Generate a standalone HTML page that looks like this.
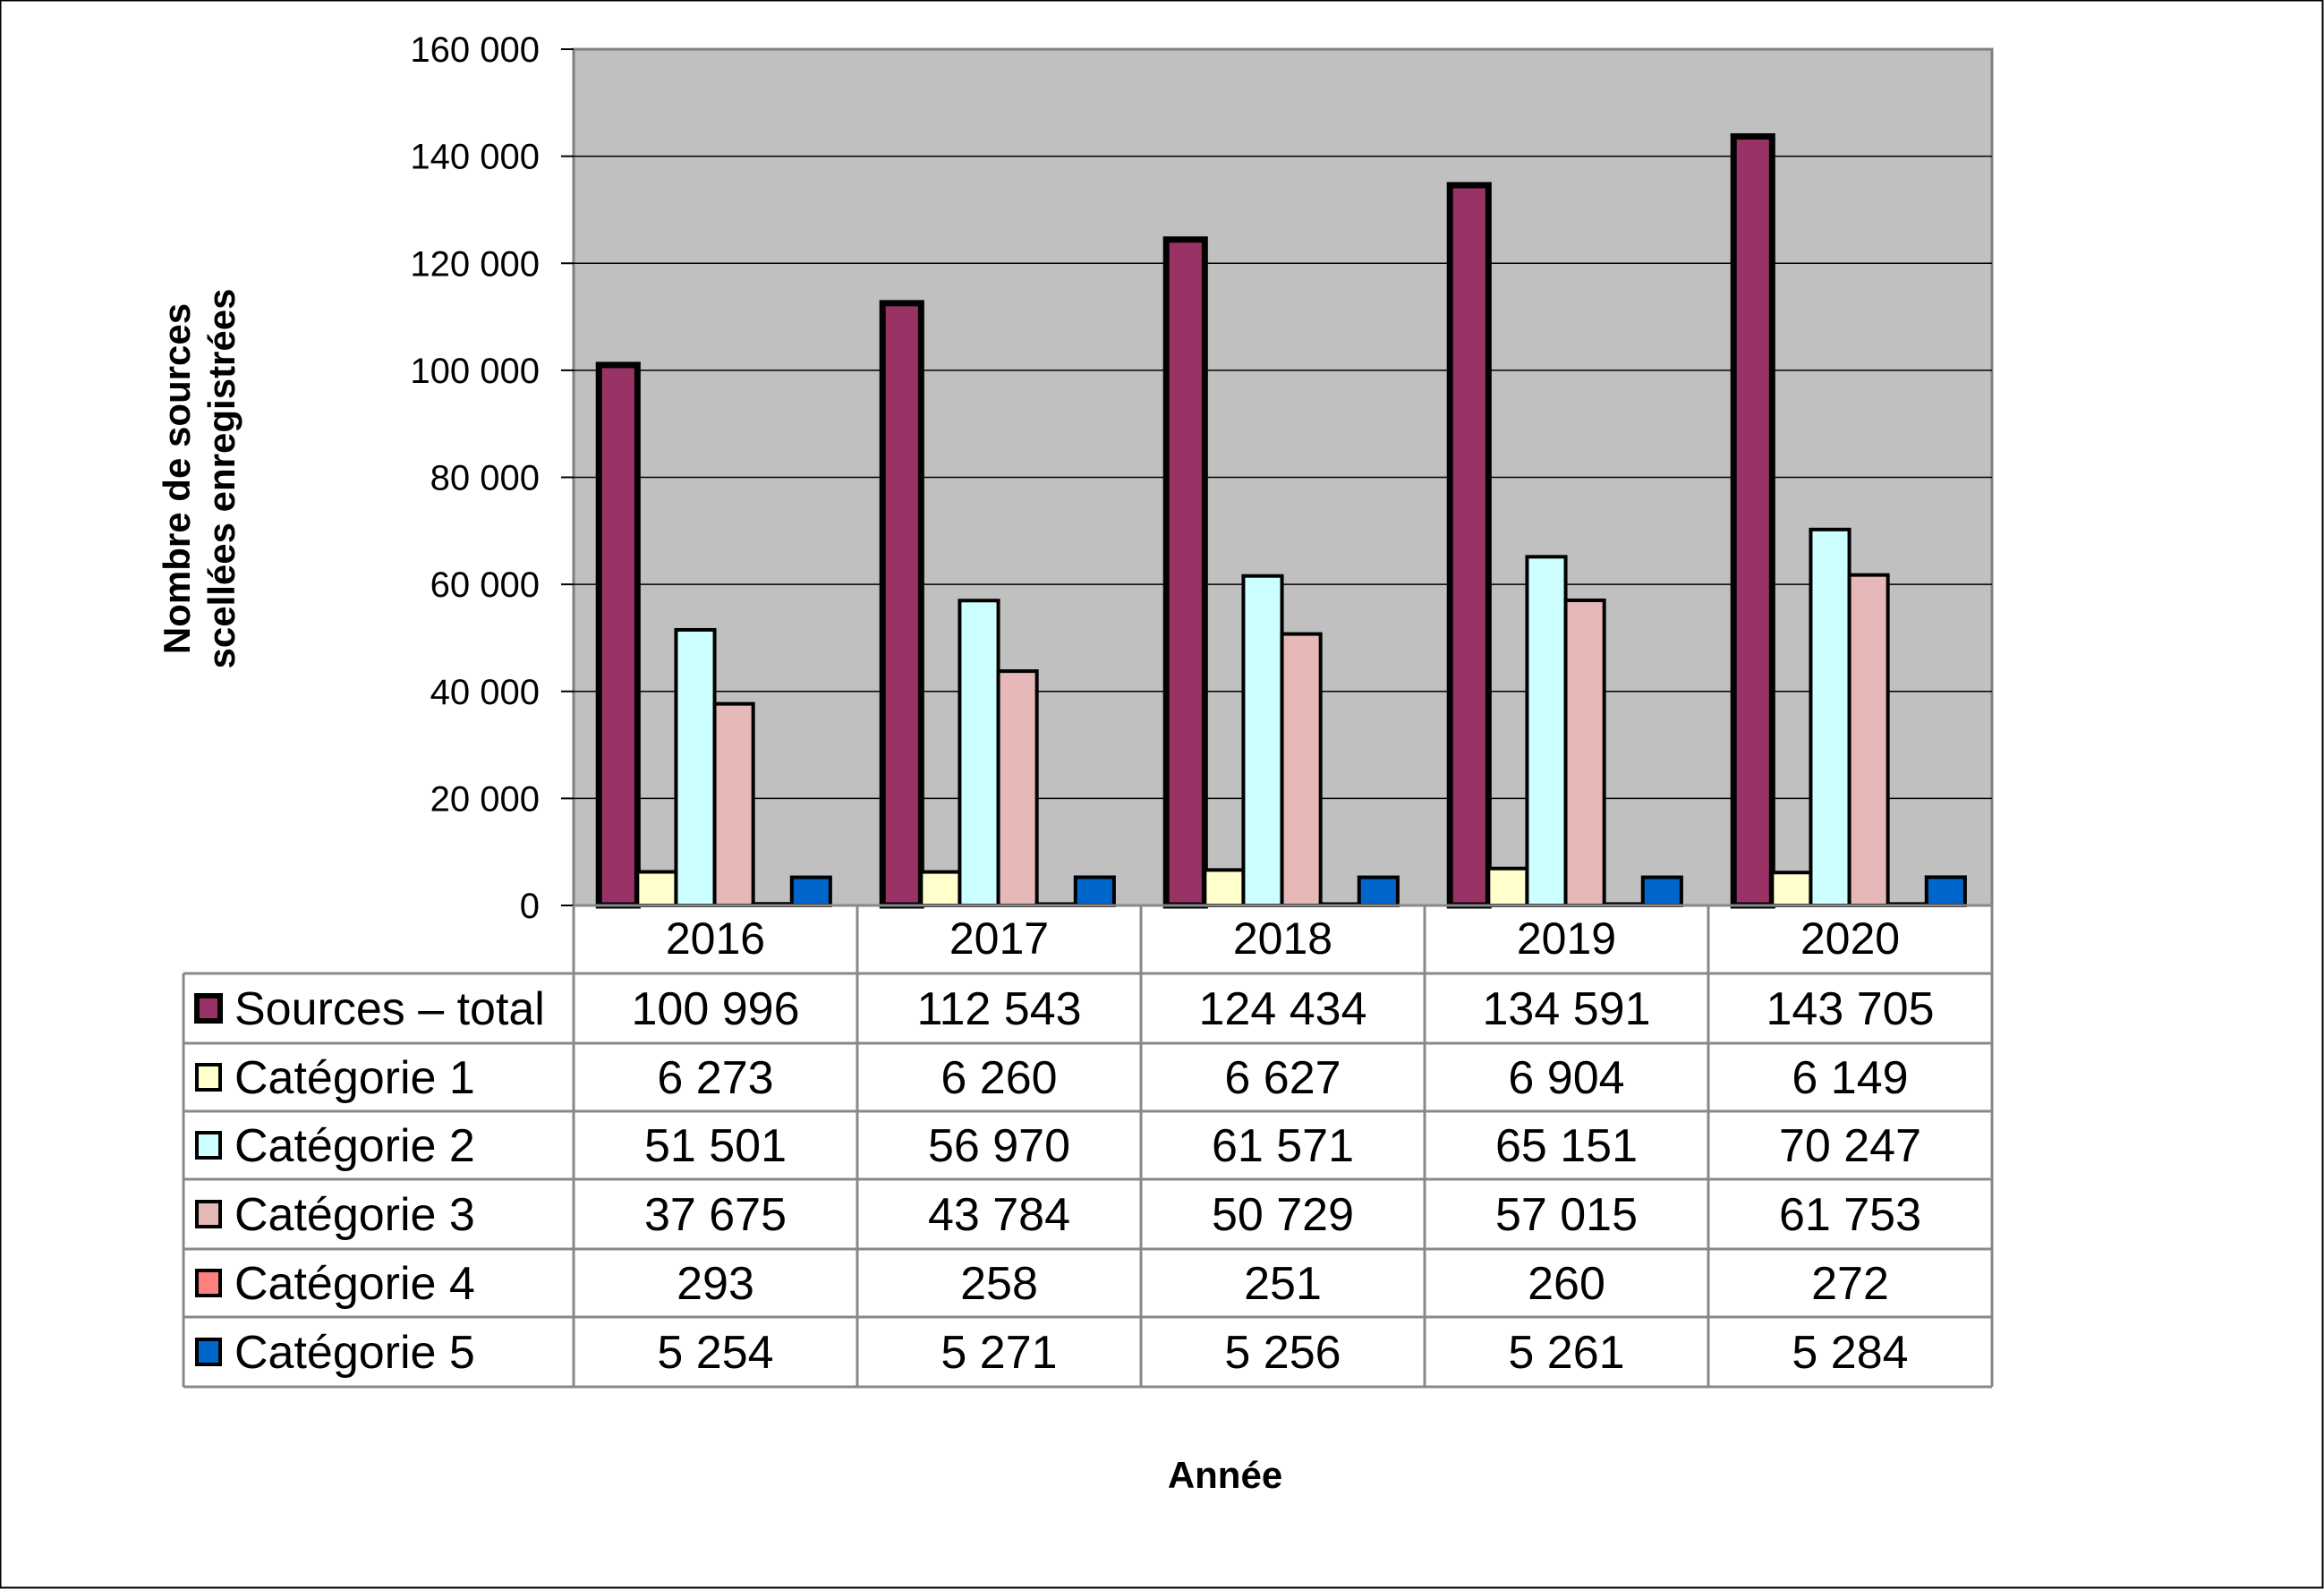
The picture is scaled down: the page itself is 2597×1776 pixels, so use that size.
<!DOCTYPE html>
<html><head><meta charset="utf-8"><style>
html,body{margin:0;padding:0;background:#fff}
svg{display:block}
.t{font-family:"Liberation Sans",Arial,sans-serif}
.n{font-family:"Liberation Sans Narrow","Liberation Sans",sans-serif}
</style></head><body>
<svg id="c" width="2597" height="1776" viewBox="0 0 2597 1776" xmlns="http://www.w3.org/2000/svg">
<rect x="0.5" y="0.5" width="2595" height="1774" fill="#fff" stroke="#000" stroke-width="2"/>
<rect x="641" y="55" width="1585" height="957" fill="#c0c0c0" stroke="#808080" stroke-width="3"/>
<g id="grid"></g>
<g id="yt"></g>
<g id="bars"></g>
<g id="tbl"></g>
<text class="t" x="0" y="0" transform="translate(220,535) rotate(-90)" text-anchor="middle" font-size="42" font-weight="bold"><tspan x="0" dy="-8">Nombre de sources</tspan><tspan x="0" dy="50">scellées enregistrées</tspan></text>
<text class="t" x="1369" y="1663" text-anchor="middle" font-size="42" font-weight="bold">Année</text>
</svg>
<script>
const years=["2016","2017","2018","2019","2020"];
const seriesNames=["Sources – total","Catégorie 1","Catégorie 2","Catégorie 3","Catégorie 4","Catégorie 5"];
const total=[100996,112543,124434,134591,143705];
const cat1=[6273,6260,6627,6904,6149];
const cat2=[51501,56970,61571,65151,70247];
const cat3=[37675,43784,50729,57015,61753];
const cat4=[293,258,251,260,272];
const cat5=[5254,5271,5256,5261,5284];
const yTicks=[0,20000,40000,60000,80000,100000,120000,140000,160000];
const labels=[["100 996","112 543","124 434","134 591","143 705"],["6 273","6 260","6 627","6 904","6 149"],["51 501","56 970","61 571","65 151","70 247"],["37 675","43 784","50 729","57 015","61 753"],["293","258","251","260","272"],["5 254","5 271","5 256","5 261","5 284"]];
const series=[total,cat1,cat2,cat3,cat4,cat5];
const colors=["#993366","#ffffcc","#ccffff","#e6b8b7","#ff8080","#0066cc"];
const NS="http://www.w3.org/2000/svg";
const X0=641,X1=2226,Y0=1012,Y1=55,YMAX=160000;
const gw=(X1-X0)/years.length;
function y(v){return Y0-(v/YMAX)*(Y0-Y1);}
function mk(tag,a,p){const e=document.createElementNS(NS,tag);for(const k in a)e.setAttribute(k,a[k]);p.appendChild(e);return e;}
const grid=document.getElementById('grid'),yt=document.getElementById('yt'),bars=document.getElementById('bars'),tbl=document.getElementById('tbl');
yTicks.forEach(v=>{
 if(v>0&&v<YMAX){const l=mk('line',{x1:X0,x2:X1,y1:y(v),y2:y(v),stroke:'#000','stroke-width':1.5},grid);
 
 }
 const tk=mk('line',{x1:X0-14,x2:X0,y1:y(v),y2:y(v),stroke:'#000','stroke-width':2},yt);
 
 
 const t=mk('text',{x:X0-38,y:y(v)+14,'text-anchor':'end','font-size':40,class:'t'},yt);
 t.textContent=v===0?'0':(v/1000)+' 000';
 
 
});
const bw=gw*0.136,off=gw*0.089;
years.forEach((yr,i)=>{
 series.forEach((s,j)=>{
  const bx=X0+i*gw+off+j*bw,by=y(s[i]);
  const r=mk('rect',{x:bx,y:by,width:bw,height:Y0-by,fill:colors[j],stroke:'#000','stroke-width':j===0?7:4},bars);
  
  
 });
});
// table
const TL=205,rowsY=[1012,1088,1166,1242,1318,1396,1472,1550];
const g='#888';
for(let k=0;k<=years.length;k++){const xx=X0+k*gw;mk('line',{x1:xx,x2:xx,y1:1012,y2:1550,stroke:g,'stroke-width':3},tbl);}
mk('line',{x1:TL,x2:TL,y1:1088,y2:1550,stroke:g,'stroke-width':3},tbl);
rowsY.forEach((ry,k)=>{mk('line',{x1:k===0?X0:TL,x2:X1,y1:ry,y2:ry,stroke:g,'stroke-width':3},tbl);});
years.forEach((yr,i)=>{
 const t=mk('text',{x:X0+(i+0.5)*gw,y:1066,'text-anchor':'middle','font-size':50,class:'n'},tbl);
 t.textContent=yr;
 
 
});
seriesNames.forEach((nm,j)=>{
 const ry=rowsY[j+1],cy=(ry+rowsY[j+2])/2;
 const sw=mk('rect',{x:220,y:cy-14,width:26,height:28,fill:colors[j],stroke:'#000','stroke-width':j===0?6:4},tbl);
 
 
 const t=mk('text',{x:262,y:cy+18,'font-size':52,class:'n'},tbl);
 t.textContent=nm;
 
 
 years.forEach((yr,i)=>{
  const v=mk('text',{x:X0+(i+0.5)*gw,y:cy+18,'text-anchor':'middle','font-size':52,class:'n'},tbl);
  v.textContent=labels[j][i];
  
  
 });
});
</script>
</body></html>
